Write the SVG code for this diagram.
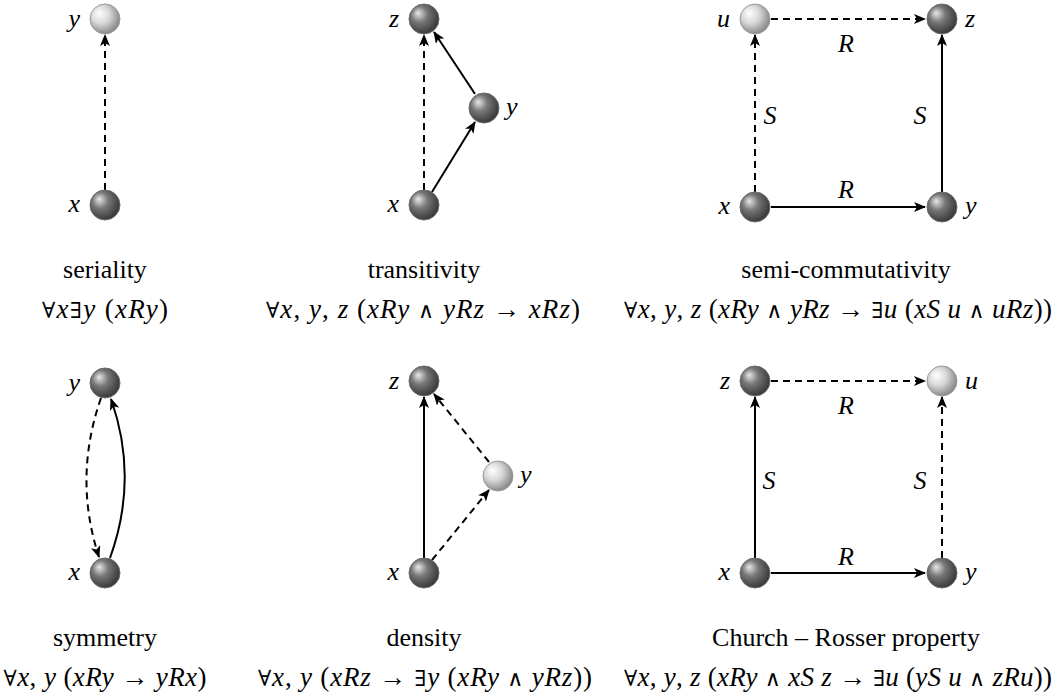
<svg xmlns="http://www.w3.org/2000/svg" width="1057" height="697" viewBox="0 0 1057 697">
<style>
text{font-family:"Liberation Serif","DejaVu Serif",serif;font-size:26px;fill:#000}
.v{font-style:italic}
.lab{text-anchor:middle}
.f{font-size:27px}
.e{fill:none;stroke:#000;stroke-width:2}
.d{stroke-dasharray:7,5}
.dk{fill:url(#gd);stroke:#6a6a6a;stroke-width:1}
.lt{fill:url(#gl);stroke:#9a9a9a;stroke-width:1}
.op{font-size:22px}
</style>
<defs>
<radialGradient id="gd" cx="0.4" cy="0.4" r="0.6" fx="0.3" fy="0.3">
<stop offset="0" stop-color="#e8e8e8"/><stop offset="0.45" stop-color="#777"/><stop offset="1" stop-color="#3a3a3a"/>
</radialGradient>
<radialGradient id="gl" cx="0.4" cy="0.4" r="0.6" fx="0.3" fy="0.3">
<stop offset="0" stop-color="#fff"/><stop offset="0.5" stop-color="#d8d8d8"/><stop offset="1" stop-color="#8a8a8a"/>
</radialGradient>
<marker id="a" viewBox="0 0 12 10" refX="11" refY="5" markerWidth="12" markerHeight="10" markerUnits="userSpaceOnUse" orient="auto">
<path d="M0,0 L12,5 L0,10 L3,5 z" fill="#000"/>
</marker>
</defs>

<g id="connectors">
<line class="e d" x1="105" y1="190" x2="105" y2="35" marker-end="url(#a)"/>
<line class="e d" x1="424" y1="190" x2="424" y2="35" marker-end="url(#a)"/>
<line class="e" x1="432" y1="192" x2="475" y2="122" marker-end="url(#a)"/>
<line class="e" x1="475" y1="94" x2="434" y2="32" marker-end="url(#a)"/>
<line class="e d" x1="771" y1="19" x2="925" y2="19" marker-end="url(#a)"/>
<line class="e d" x1="755" y1="192" x2="755" y2="35" marker-end="url(#a)"/>
<line class="e" x1="771" y1="207" x2="925" y2="207" marker-end="url(#a)"/>
<line class="e" x1="942" y1="192" x2="942" y2="35" marker-end="url(#a)"/>
<path class="e d" d="M101,398 Q73,478 99,557" marker-end="url(#a)"/>
<path class="e" d="M110,558 Q139,478 111,399" marker-end="url(#a)"/>
<line class="e" x1="424" y1="558" x2="424" y2="397" marker-end="url(#a)"/>
<line class="e d" x1="432" y1="560" x2="489" y2="490" marker-end="url(#a)"/>
<line class="e d" x1="489" y1="462" x2="434" y2="394" marker-end="url(#a)"/>
<line class="e d" x1="771" y1="381" x2="925" y2="381" marker-end="url(#a)"/>
<line class="e d" x1="942" y1="558" x2="942" y2="397" marker-end="url(#a)"/>
<line class="e" x1="771" y1="573" x2="925" y2="573" marker-end="url(#a)"/>
<line class="e" x1="755" y1="558" x2="755" y2="397" marker-end="url(#a)"/>
</g>

<g id="edge-labels" class="v">
<text x="846" y="52" class="lab">R</text>
<text x="846" y="198" class="lab">R</text>
<text x="770" y="124" class="lab">S</text>
<text x="920" y="124" class="lab">S</text>
<text x="846" y="414" class="lab">R</text>
<text x="846" y="565" class="lab">R</text>
<text x="769" y="489" class="lab">S</text>
<text x="920" y="489" class="lab">S</text>
</g>

<g id="ser-y"><circle class="lt" cx="105" cy="19" r="15"/><text class="v" x="80" y="27" text-anchor="end">y</text></g>
<g id="ser-x"><circle class="dk" cx="105" cy="205" r="15"/><text class="v" x="80" y="212" text-anchor="end">x</text></g>

<g id="tr-z"><circle class="dk" cx="424" cy="19" r="15"/><text class="v" x="399" y="27" text-anchor="end">z</text></g>
<g id="tr-y"><circle class="dk" cx="484" cy="108" r="15"/><text class="v" x="506" y="115">y</text></g>
<g id="tr-x"><circle class="dk" cx="424" cy="205" r="15"/><text class="v" x="399" y="212" text-anchor="end">x</text></g>

<g id="sc-u"><circle class="lt" cx="755" cy="19" r="15"/><text class="v" x="730" y="27" text-anchor="end">u</text></g>
<g id="sc-z"><circle class="dk" cx="942" cy="19" r="15"/><text class="v" x="965" y="27">z</text></g>
<g id="sc-x"><circle class="dk" cx="755" cy="207" r="15"/><text class="v" x="730" y="214" text-anchor="end">x</text></g>
<g id="sc-y"><circle class="dk" cx="942" cy="207" r="15"/><text class="v" x="965" y="214">y</text></g>

<g id="sy-y"><circle class="dk" cx="105" cy="383" r="15"/><text class="v" x="80" y="391" text-anchor="end">y</text></g>
<g id="sy-x"><circle class="dk" cx="105" cy="573" r="15"/><text class="v" x="80" y="580" text-anchor="end">x</text></g>

<g id="de-z"><circle class="dk" cx="424" cy="381" r="15"/><text class="v" x="399" y="389" text-anchor="end">z</text></g>
<g id="de-y"><circle class="lt" cx="498" cy="476" r="15"/><text class="v" x="520" y="483">y</text></g>
<g id="de-x"><circle class="dk" cx="424" cy="573" r="15"/><text class="v" x="399" y="580" text-anchor="end">x</text></g>

<g id="cr-z"><circle class="dk" cx="755" cy="381" r="15"/><text class="v" x="730" y="389" text-anchor="end">z</text></g>
<g id="cr-u"><circle class="lt" cx="942" cy="381" r="15"/><text class="v" x="965" y="389">u</text></g>
<g id="cr-x"><circle class="dk" cx="755" cy="573" r="15"/><text class="v" x="730" y="580" text-anchor="end">x</text></g>
<g id="cr-y"><circle class="dk" cx="942" cy="573" r="15"/><text class="v" x="965" y="580">y</text></g>

<g id="captions" class="lab">
<text x="105" y="278">seriality</text>
<text x="424" y="278">transitivity</text>
<text x="846" y="278">semi-commutativity</text>
<text x="105" y="646">symmetry</text>
<text x="424" y="646">density</text>
<text x="846" y="646">Church – Rosser property</text>
</g>

<g id="formulas" class="lab f">
<text class="f" x="105" y="318" textLength="126" lengthAdjust="spacing"><tspan class="op">∀</tspan><tspan class="v">x</tspan><tspan class="op">∃</tspan><tspan class="v">y</tspan> (<tspan class="v">xRy</tspan>)</text>
<text class="f" x="423" y="318" textLength="314" lengthAdjust="spacing"><tspan class="op">∀</tspan><tspan class="v">x</tspan>, <tspan class="v">y</tspan>, <tspan class="v">z</tspan> (<tspan class="v">xRy</tspan> <tspan class="op">∧</tspan> <tspan class="v">yRz</tspan> → <tspan class="v">xRz</tspan>)</text>
<text class="f" x="838" y="318" textLength="428" lengthAdjust="spacing"><tspan class="op">∀</tspan><tspan class="v">x</tspan>, <tspan class="v">y</tspan>, <tspan class="v">z</tspan> (<tspan class="v">xRy</tspan> <tspan class="op">∧</tspan> <tspan class="v">yRz</tspan> → <tspan class="op">∃</tspan><tspan class="v">u</tspan> (<tspan class="v">xS u</tspan> <tspan class="op">∧</tspan> <tspan class="v">uRz</tspan>))</text>
<text class="f" x="105" y="686" textLength="203" lengthAdjust="spacing"><tspan class="op">∀</tspan><tspan class="v">x</tspan>, <tspan class="v">y</tspan> (<tspan class="v">xRy</tspan> → <tspan class="v">yRx</tspan>)</text>
<text class="f" x="425" y="686" textLength="334" lengthAdjust="spacing"><tspan class="op">∀</tspan><tspan class="v">x</tspan>, <tspan class="v">y</tspan> (<tspan class="v">xRz</tspan> → <tspan class="op">∃</tspan><tspan class="v">y</tspan> (<tspan class="v">xRy</tspan> <tspan class="op">∧</tspan> <tspan class="v">yRz</tspan>))</text>
<text class="f" x="838" y="686" textLength="428" lengthAdjust="spacing"><tspan class="op">∀</tspan><tspan class="v">x</tspan>, <tspan class="v">y</tspan>, <tspan class="v">z</tspan> (<tspan class="v">xRy</tspan> <tspan class="op">∧</tspan> <tspan class="v">xS z</tspan> → <tspan class="op">∃</tspan><tspan class="v">u</tspan> (<tspan class="v">yS u</tspan> <tspan class="op">∧</tspan> <tspan class="v">zRu</tspan>))</text>
</g>
</svg>
